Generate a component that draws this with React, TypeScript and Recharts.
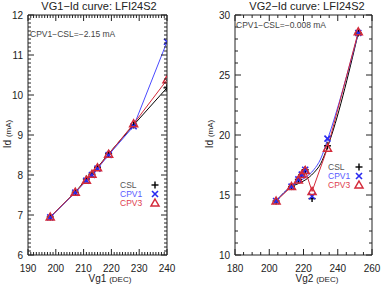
import { ComposedChart, Line, XAxis, YAxis } from "recharts";

// VG1 sweep (left panel)
const VG1_X = [198, 207, 211, 213, 215, 219, 228, 240];
const VG1_CSL = [6.95, 7.57, 7.9, 8.02, 8.19, 8.53, 9.25, 10.18];
const VG1_CPV1 = [6.94, 7.56, 7.86, 8.0, 8.16, 8.5, 9.22, 11.33];
const VG1_CPV3 = [6.95, 7.57, 7.87, 8.02, 8.18, 8.52, 9.28, 10.38];

// VG2 sweep (right panel)
const VG2_X = [204, 213, 217, 219, 221, 225, 234, 252];
const VG2_CSL = [14.5, 15.7, 16.3, 16.7, 17.1, 14.7, 19.1, 28.5];
const VG2_CPV1 = [14.5, 15.7, 16.3, 16.7, 17.1, 14.9, 19.7, 28.5];
const VG2_CPV3 = [14.5, 15.7, 16.25, 16.7, 17.05, 15.3, 18.9, 28.6];

// smooth curves drawn for CSL / CPV1 in the VG2 panel
const VG2_CURVE_X = [204, 213, 217, 221, 226, 230, 234, 252];
const VG2_CSL_CURVE = [14.5, 15.7, 15.95, 16.25, 16.85, 17.6, 19.0, 28.5];
const VG2_CPV1_CURVE = [14.5, 15.75, 16.1, 16.45, 17.1, 18.0, 19.6, 28.5];

const VG1_MAJOR_X = [190, 200, 210, 220, 230, 240];
const VG1_MAJOR_Y = [6, 7, 8, 9, 10, 11, 12];
const VG2_MAJOR_X = [180, 200, 220, 240, 260];
const VG2_MAJOR_Y = [10, 15, 20, 25, 30];

const NAMES = ["CSL", "CPV1", "CPV3"];

const FONT = '"Liberation Sans", Arial, sans-serif';
const C_CSL = "#000000";
const C_CPV1 = "#4a4aff";
const C_CPV3 = "#d42a3a";
const FRAME = "#222";

const zip = (xs: number[], ys: number[]) => xs.map((x, i) => ({ x, y: ys[i] }));

const steps = (lo: number, hi: number, step: number) => {
  const out: number[] = [];
  const n = Math.round((hi - lo) / step);
  for (let i = 0; i <= n; i++) out.push(Math.round((lo + i * step) * 1000) / 1000);
  return out;
};

const isMajor = (v: number, majors: number[]) => majors.some((m) => Math.abs(m - v) < 1e-6);

function makeTick(side: "bottom" | "top" | "left" | "right", majors: number[], label: boolean) {
  return (props: any) => {
    const { x, y, payload } = props;
    const v = payload.value as number;
    const major = isMajor(v, majors);
    const len = major ? 6 : 3;
    let line;
    if (side === "bottom") line = <line x1={x} y1={y} x2={x} y2={y - len} stroke={FRAME} />;
    else if (side === "top") line = <line x1={x} y1={y} x2={x} y2={y + len} stroke={FRAME} />;
    else if (side === "left") line = <line x1={x} y1={y} x2={x + len} y2={y} stroke={FRAME} />;
    else line = <line x1={x} y1={y} x2={x - len} y2={y} stroke={FRAME} />;
    return (
      <g>
        {line}
        {label && major && side === "bottom" && (
          <text x={x} y={y + 17} textAnchor="middle" fontSize={10} fill="#222" fontFamily={FONT}>
            {v}
          </text>
        )}
        {label && major && side === "left" && (
          <text x={x - 5} y={y + 3.5} textAnchor="end" fontSize={10} fill="#222" fontFamily={FONT}>
            {v}
          </text>
        )}
      </g>
    );
  };
}

const Plus = (props: any) => {
  const { cx, cy } = props;
  if (cx == null || cy == null) return null;
  return (
    <g>
      <line x1={cx - 3.5} y1={cy} x2={cx + 3.5} y2={cy} stroke={C_CSL} strokeWidth={1.4} />
      <line x1={cx} y1={cy - 3.5} x2={cx} y2={cy + 3.5} stroke={C_CSL} strokeWidth={1.4} />
    </g>
  );
};

const Cross = (props: any) => {
  const { cx, cy } = props;
  if (cx == null || cy == null) return null;
  return (
    <g>
      <line x1={cx - 3} y1={cy - 3} x2={cx + 3} y2={cy + 3} stroke="#2a2af0" strokeWidth={1.6} />
      <line x1={cx - 3} y1={cy + 3} x2={cx + 3} y2={cy - 3} stroke="#2a2af0" strokeWidth={1.6} />
    </g>
  );
};

const Tri = (props: any) => {
  const { cx, cy } = props;
  if (cx == null || cy == null) return null;
  return (
    <path
      d={`M${cx},${cy - 4} L${cx + 4},${cy + 3} L${cx - 4},${cy + 3} Z`}
      fill="none"
      stroke={C_CPV3}
      strokeWidth={1.5}
    />
  );
};

interface PanelProps {
  left: number;
  yAxisW: number;
  rightW: number;
  xDomain: [number, number];
  yDomain: [number, number];
  xTicks: number[];
  yTicks: number[];
  xMajors: number[];
  yMajors: number[];
  curve: "linear" | "monotone";
  lines: { data: { x: number; y: number }[]; color: string; type?: "linear" | "monotone" }[];
  markers: { data: { x: number; y: number }[]; shape: any }[];
}

function Panel(p: PanelProps) {
  return (
    <div style={{ position: "absolute", left: p.left, top: 0 }}>
      <ComposedChart width={191} height={284} margin={{ top: 0, right: 0, bottom: 0, left: 0 }}>
        <XAxis
          dataKey="x"
          type="number"
          domain={p.xDomain}
          ticks={p.xTicks}
          interval={0}
          height={29}
          tickSize={0}
          tickMargin={0}
          axisLine={{ stroke: FRAME }}
          tick={makeTick("bottom", p.xMajors, true)}
          allowDataOverflow
        />
        <XAxis
          xAxisId="top"
          dataKey="x"
          orientation="top"
          type="number"
          domain={p.xDomain}
          ticks={p.xTicks}
          interval={0}
          height={15}
          tickSize={0}
          tickMargin={0}
          axisLine={{ stroke: FRAME }}
          tick={makeTick("top", p.xMajors, false)}
          allowDataOverflow
        />
        <YAxis
          dataKey="y"
          type="number"
          domain={p.yDomain}
          ticks={p.yTicks}
          interval={0}
          width={p.yAxisW}
          tickSize={0}
          tickMargin={0}
          axisLine={{ stroke: FRAME }}
          tick={makeTick("left", p.yMajors, true)}
          allowDataOverflow
        />
        <YAxis
          yAxisId="right"
          dataKey="y"
          orientation="right"
          type="number"
          domain={p.yDomain}
          ticks={p.yTicks}
          interval={0}
          width={p.rightW}
          tickSize={0}
          tickMargin={0}
          axisLine={{ stroke: FRAME }}
          tick={makeTick("right", p.yMajors, false)}
          allowDataOverflow
        />
        {/* invisible copy so the mirrored frame axes get ticks */}
        <Line
          xAxisId="top"
          yAxisId="right"
          data={p.lines[0].data}
          dataKey="y"
          stroke="none"
          dot={false}
          activeDot={false}
          isAnimationActive={false}
        />
        {p.lines.map((l, i) => (
          <Line
            key={"l" + i}
            data={l.data}
            dataKey="y"
            type={l.type ?? p.curve}
            stroke={l.color}
            strokeWidth={1}
            dot={false}
            activeDot={false}
            isAnimationActive={false}
          />
        ))}
        {p.markers.map((m, i) => (
          <Line
            key={"m" + i}
            data={m.data}
            dataKey="y"
            stroke="none"
            dot={m.shape}
            activeDot={false}
            isAnimationActive={false}
          />
        ))}
      </ComposedChart>
    </div>
  );
}

const txt = (extra: any) => ({
  position: "absolute" as const,
  fontFamily: FONT,
  whiteSpace: "nowrap" as const,
  lineHeight: "12px",
  ...extra,
});

function LegendBlock({ left, top, symX }: { left: number; top: number; symX: number }) {
  const colors = ["#555", "#5a5aff", "#e0404e"];
  const syms = [Plus, Cross, Tri];
  return (
    <>
      {NAMES.map((n, i) => (
        <div key={n} style={txt({ left, top: top + i * 9, fontSize: 8.5, color: colors[i] })}>
          {n}
        </div>
      ))}
      <svg style={{ position: "absolute", left: 0, top: 0 }} width={382} height={284}>
        {syms.map((S, i) => (
          <S key={i} cx={symX} cy={top + 6 + i * 9} />
        ))}
      </svg>
    </>
  );
}

export default function App() {
  const leftXTicks = steps(190, 240, 1);
  const leftYTicks = steps(6, 12, 0.1);
  const rightXTicks = steps(180, 260, 5);
  const rightYTicks = steps(10, 30, 1);

  return (
    <div style={{ position: "absolute", left: 0, top: 0, width: 382, height: 284, background: "#fff", overflow: "hidden" }}>
      <Panel
        left={0}
        yAxisW={28}
        rightW={24}
        xDomain={[190, 240]}
        yDomain={[6, 12]}
        xTicks={leftXTicks}
        yTicks={leftYTicks}
        xMajors={VG1_MAJOR_X}
        yMajors={VG1_MAJOR_Y}
        curve="linear"
        lines={[
          { data: zip(VG1_X, VG1_CSL), color: C_CSL },
          { data: zip(VG1_X, VG1_CPV1), color: C_CPV1 },
          { data: zip(VG1_X, VG1_CPV3), color: C_CPV3 },
        ]}
        markers={[
          { data: zip(VG1_X, VG1_CSL), shape: <Plus /> },
          { data: zip(VG1_X, VG1_CPV1), shape: <Cross /> },
          { data: zip(VG1_X, VG1_CPV3), shape: <Tri /> },
        ]}
      />
      <Panel
        left={191}
        yAxisW={44}
        rightW={10}
        xDomain={[180, 260]}
        yDomain={[10, 30]}
        xTicks={rightXTicks}
        yTicks={rightYTicks}
        xMajors={VG2_MAJOR_X}
        yMajors={VG2_MAJOR_Y}
        curve="monotone"
        lines={[
          { data: zip(VG2_CURVE_X, VG2_CSL_CURVE), color: C_CSL },
          { data: zip(VG2_CURVE_X, VG2_CPV1_CURVE), color: C_CPV1 },
          { data: zip(VG2_X, VG2_CPV3), color: C_CPV3, type: "linear" },
        ]}
        markers={[
          { data: zip(VG2_X, VG2_CSL), shape: <Plus /> },
          { data: zip(VG2_X, VG2_CPV1), shape: <Cross /> },
          { data: zip(VG2_X, VG2_CPV3), shape: <Tri /> },
        ]}
      />

      <div style={txt({ left: 99, top: 0, fontSize: 11, color: "#222", transform: "translateX(-50%)" })}>
        VG1−Id curve: LFI24S2
      </div>
      <div style={txt({ left: 307, top: 0, fontSize: 11, color: "#222", transform: "translateX(-50%)" })}>
        VG2−Id curve: LFI24S2
      </div>

      <div style={txt({ left: 30, top: 28, fontSize: 8.5, color: "#444" })}>CPV1−CSL=−2.15 mA</div>
      <div style={txt({ left: 236, top: 19, fontSize: 8.5, color: "#444" })}>CPV1−CSL=−0.008 mA</div>

      <div style={txt({ left: 110, top: 273, fontSize: 10, color: "#222", transform: "translateX(-50%)" })}>
        Vg1 <span style={{ fontSize: 8 }}>(DEC)</span>
      </div>
      <div style={txt({ left: 317, top: 273, fontSize: 10, color: "#222", transform: "translateX(-50%)" })}>
        Vg2 <span style={{ fontSize: 8 }}>(DEC)</span>
      </div>

      <div style={txt({ left: 8, top: 134, fontSize: 10, color: "#222", transform: "translate(-50%,-50%) rotate(-90deg)" })}>
        Id <span style={{ fontSize: 8 }}>(mA)</span>
      </div>
      <div style={txt({ left: 210, top: 134, fontSize: 10, color: "#222", transform: "translate(-50%,-50%) rotate(-90deg)" })}>
        Id <span style={{ fontSize: 8 }}>(mA)</span>
      </div>

      <LegendBlock left={120} top={179} symX={155} />
      <LegendBlock left={328} top={161} symX={359} />
    </div>
  );
}
